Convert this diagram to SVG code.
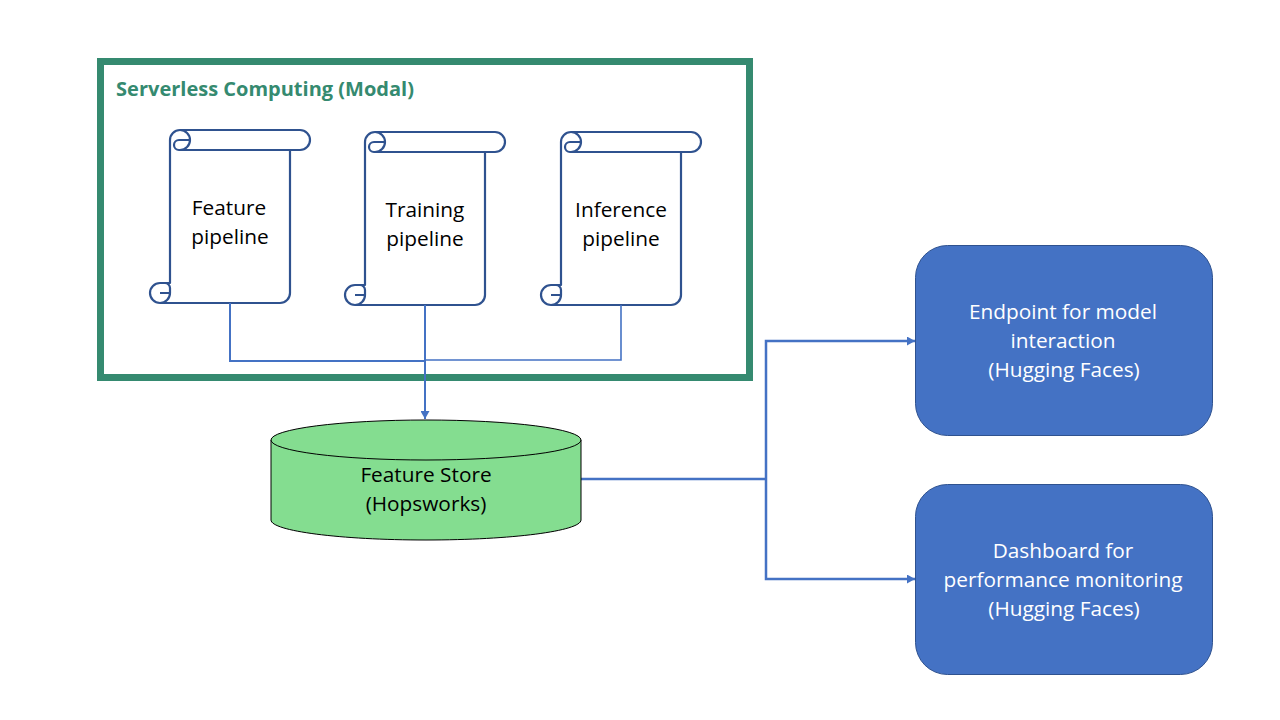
<svg xmlns="http://www.w3.org/2000/svg" width="1280" height="720" viewBox="0 0 1280 720">
<style>
text{font-family:"Open Sans","Noto Sans",sans-serif;font-size:20.800px;text-anchor:middle;fill:#000}
.scroll{fill:#fff;stroke:#2f528f;stroke-width:2.200;stroke-linejoin:round}
.roll{fill:none;stroke:#2f528f;stroke-width:2.200}
.c{fill:none;stroke:#4472c4;stroke-width:2}
.c1{fill:none;stroke:#4472c4;stroke-width:1.600}
.c3{fill:none;stroke:#4472c4;stroke-width:2.500}
.box{fill:#4472c4;stroke:#2f528f;stroke-width:1}
.w{fill:#fff}
</style>
<defs>
<marker id="a" markerUnits="userSpaceOnUse" markerWidth="9" markerHeight="9" refX="8" refY="4.500" orient="auto"><path d="M0 0L8 4.500L0 9Z" fill="#4472c4"/></marker>
<g id="scrollShape">
<path class="scroll" d="M0 10A10 10 0 0 1 10 0H130A10 10 0 0 1 130 20H120V163A10 10 0 0 1 110 173H-10A10 10 0 0 1 -10 153H0Z"/>
<path class="roll" d="M10 0A10 10 0 0 1 10 20H9A5 5 0 0 1 9 10H20M10 20H120M-10 153H-5A5 5 0 0 1 0 158V163A10 10 0 0 1 -10 173M-10 163H0"/>
</g>
</defs>
<g id="modal">
<rect x="100.500" y="61.500" width="649" height="316" fill="#fff" stroke="#358a70" stroke-width="7"/>
<text x="265" y="96" style="font-size:20px;font-weight:700;fill:#358a70">Serverless Computing (Modal)</text>
</g>
<g id="feature-pipeline"><use href="#scrollShape" x="170" y="130"/><text x="229" y="215">Feature</text><text x="230" y="244">pipeline</text></g>
<g id="training-pipeline"><use href="#scrollShape" x="365" y="132"/><text x="425" y="217">Training</text><text x="425" y="246">pipeline</text></g>
<g id="inference-pipeline"><use href="#scrollShape" x="561" y="132"/><text x="621" y="217">Inference</text><text x="621" y="246">pipeline</text></g>
<g id="connectors">
<path class="c" d="M230 303V361H425"/>
<path class="c1" d="M621 305V360H425"/>
<path class="c" d="M425 305V419" marker-end="url(#a)"/>
<path class="c3" d="M581 479H766"/>
<path class="c3" d="M766 479V341H915" marker-end="url(#a)"/>
<path class="c3" d="M766 479V579H915" marker-end="url(#a)"/>
</g>
<g id="feature-store">
<path d="M271 440V520C271 531 340 540 426 540S581 531 581 520V440Z" fill="#84dd90" stroke="#000" stroke-width="1"/>
<ellipse cx="426" cy="440" rx="155" ry="20" fill="#84dd90" stroke="#000" stroke-width="1"/>
<text x="426" y="482">Feature Store</text><text x="426" y="511">(Hopsworks)</text>
</g>
<g id="endpoint">
<rect class="box" x="915.500" y="245.500" width="297" height="190" rx="32"/>
<text class="w" x="1063" y="319">Endpoint for model</text><text class="w" x="1063" y="348">interaction</text><text class="w" x="1064" y="377">(Hugging Faces)</text>
</g>
<g id="dashboard">
<rect class="box" x="915.500" y="484.500" width="297" height="190" rx="32"/>
<text class="w" x="1063" y="558">Dashboard for</text><text class="w" x="1063" y="587">performance monitoring</text><text class="w" x="1064" y="616">(Hugging Faces)</text>
</g>
</svg>
